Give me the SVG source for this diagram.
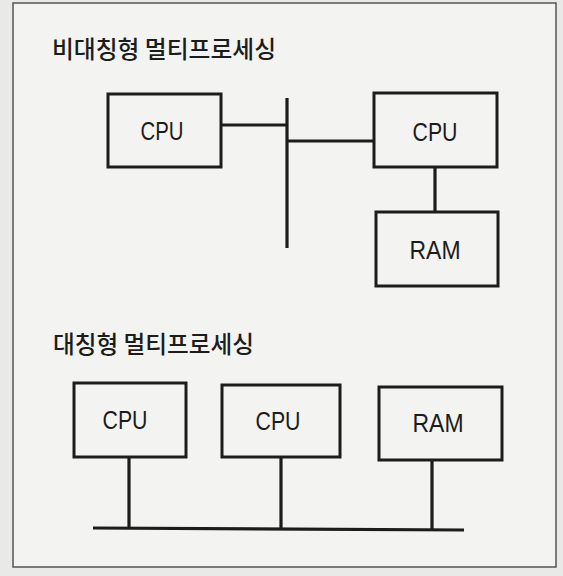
<svg xmlns="http://www.w3.org/2000/svg" width="563" height="576" viewBox="0 0 563 576">
  <style>
    .box { fill: none; stroke: #1c1c1c; stroke-width: 3; }
    .wire { stroke: #1c1c1c; stroke-width: 3.2; fill: none; stroke-linecap: butt; }
    .lbl { font-family: "Liberation Sans", Arial, sans-serif; font-size: 26px; fill: #1c1c1c; text-anchor: middle; }
    .title { font-family: "Noto Sans CJK KR", "Noto Sans", sans-serif; font-size: 24px; font-weight: 500; fill: #1c1c1c; }
  </style>
  <rect x="0" y="0" width="563" height="576" fill="#e9e9e7"/>
  <rect x="13" y="3" width="543" height="564" fill="#f3f3f1" stroke="#555" stroke-width="1.5"/>

  <text class="title" x="52" y="58" textLength="224" lengthAdjust="spacingAndGlyphs">비대칭형 멀티프로세싱</text>
  <text class="title" x="53" y="353" textLength="201" lengthAdjust="spacingAndGlyphs">대칭형 멀티프로세싱</text>

  <g id="connectors">
    <line class="wire" x1="221" y1="125" x2="287" y2="125"/>
    <line class="wire" x1="287" y1="98" x2="287" y2="248"/>
    <line class="wire" x1="287" y1="141" x2="374" y2="141"/>
    <line class="wire" x1="435" y1="167" x2="435" y2="212"/>
    <line class="wire" x1="93" y1="528" x2="464" y2="530"/>
    <line class="wire" x1="129" y1="457" x2="129" y2="528"/>
    <line class="wire" x1="281" y1="457" x2="281" y2="529"/>
    <line class="wire" x1="432" y1="460" x2="432" y2="530"/>
  </g>

  <g id="asym-cpu1">
    <rect class="box" x="108" y="94" width="113" height="73"/>
    <text class="lbl" x="162" y="140" textLength="43" lengthAdjust="spacingAndGlyphs">CPU</text>
  </g>
  <g id="asym-cpu2">
    <rect class="box" x="374" y="93" width="123" height="74"/>
    <text class="lbl" x="435" y="141" textLength="45" lengthAdjust="spacingAndGlyphs">CPU</text>
  </g>
  <g id="asym-ram">
    <rect class="box" x="376" y="212" width="122" height="74"/>
    <text class="lbl" x="435" y="259" textLength="51" lengthAdjust="spacingAndGlyphs">RAM</text>
  </g>

  <g id="sym-cpu1">
    <rect class="box" x="74" y="383" width="112" height="74"/>
    <text class="lbl" x="125" y="429" textLength="45" lengthAdjust="spacingAndGlyphs">CPU</text>
  </g>
  <g id="sym-cpu2">
    <rect class="box" x="222" y="385" width="118" height="72"/>
    <text class="lbl" x="278" y="430" textLength="45" lengthAdjust="spacingAndGlyphs">CPU</text>
  </g>
  <g id="sym-ram">
    <rect class="box" x="379" y="387" width="123" height="73"/>
    <text class="lbl" x="438" y="432" textLength="51" lengthAdjust="spacingAndGlyphs">RAM</text>
  </g>
</svg>
